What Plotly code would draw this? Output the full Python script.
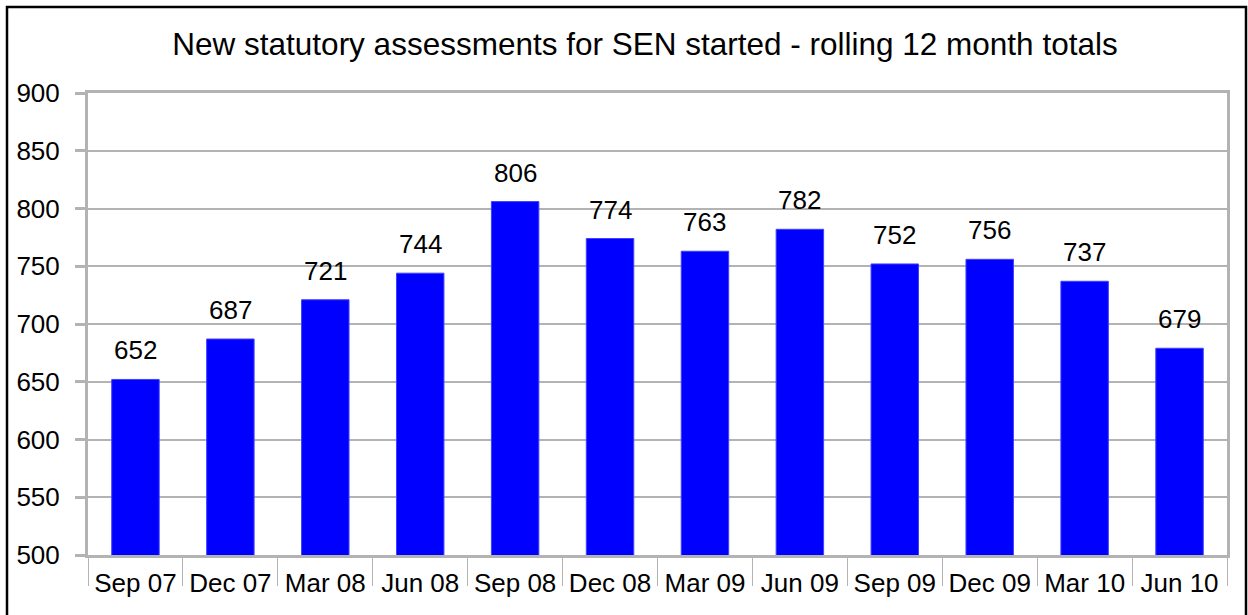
import plotly.graph_objects as go

categories = ["Sep 07", "Dec 07", "Mar 08", "Jun 08", "Sep 08", "Dec 08",
              "Mar 09", "Jun 09", "Sep 09", "Dec 09", "Mar 10", "Jun 10"]
values = [652, 687, 721, 744, 806, 774, 763, 782, 752, 756, 737, 679]
title_text = "New statutory assessments for SEN started - rolling 12 month totals"

W, H = 1248, 615
L, R, T, B = 88, 21, 93, 60
pw, ph = W - L - R, H - T - B

FONT = "Liberation Sans, Arial, sans-serif"
GRID = "#b3b3b3"

fig = go.Figure()
fig.add_trace(go.Bar(
    x=categories, y=values,
    marker=dict(color="#0000ff", line=dict(color="#4040ff", width=1)),
    hoverinfo="x+y",
))

annotations = []
for c, v in zip(categories, values):
    annotations.append(dict(
        x=c, y=v, xref="x", yref="y", text=str(v), showarrow=False,
        yanchor="bottom", yshift=12, font=dict(family=FONT, size=26, color="#000000"),
    ))

fig.update_layout(
    width=W, height=H,
    margin=dict(l=L, r=R, t=T, b=B, autoexpand=False),
    paper_bgcolor="white", plot_bgcolor="white",
    bargap=0.5,
    showlegend=False,
    title=dict(text=title_text, xref="paper", x=(645 - L) / pw, xanchor="center",
               yref="container", y=1 - 44 / H, yanchor="middle",
               font=dict(family=FONT, size=31.5, color="#000000")),
    annotations=annotations,
    shapes=[dict(type="rect", xref="paper", yref="paper",
                 x0=(7 - L) / pw, x1=(1246 - L) / pw,
                 y0=(H - B - 640) / ph, y1=(H - B - 7) / ph,
                 line=dict(color="#000000", width=2.5), layer="above")],
)

fig.update_xaxes(
    type="category", automargin=False,
    showline=True, linecolor=GRID, linewidth=3, mirror=True,
    showgrid=False,
    ticks="outside", tickson="boundaries", ticklen=28, tickcolor=GRID, tickwidth=1,
    ticklabelstandoff=3,
    tickfont=dict(family=FONT, size=26, color="#000000"),
)
fig.update_yaxes(
    range=[500, 900], dtick=50, tick0=500, automargin=False,
    showline=True, linecolor=GRID, linewidth=3, mirror=True,
    showgrid=True, gridcolor=GRID, gridwidth=2,
    ticks="outside", ticklen=10, tickcolor=GRID, tickwidth=3,
    ticklabelstandoff=10,
    tickfont=dict(family=FONT, size=26, color="#000000"),
    zeroline=False,
)

fig.write_html("out.html", config={"displayModeBar": False},
               post_script="document.body.style.margin='0';document.body.style.overflow='hidden';")
